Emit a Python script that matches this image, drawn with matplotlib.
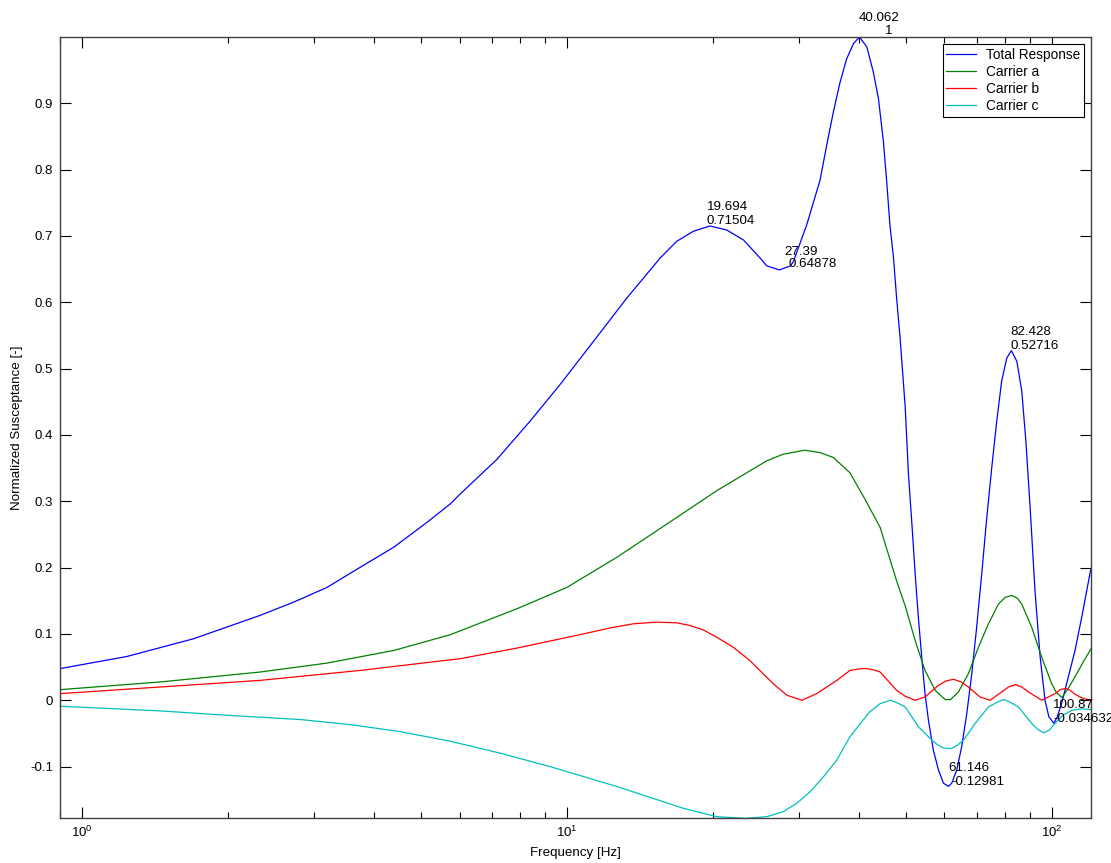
import numpy as np
import matplotlib
matplotlib.use('Agg')
import matplotlib.pyplot as plt
import matplotlib.ticker as mticker

plt.rcParams['font.family'] = ['Liberation Sans', 'DejaVu Sans']
plt.rcParams['axes.unicode_minus'] = False
plt.rcParams['mathtext.fontset'] = 'custom'
plt.rcParams['mathtext.rm'] = 'Liberation Sans'
plt.rcParams['mathtext.it'] = 'Liberation Sans:italic'

total_f = [0.90, 1.236, 1.696, 2.328, 2.73, 3.195, 3.743, 4.385, 5.136, 5.74, 6.018, 7.16,
           8.39, 9.67, 11.33, 13.28, 15.55, 16.83, 18.2, 19.694, 21.34, 23.1, 25.0, 25.8,
           27.39, 28.9, 29.3, 31.2, 32.7, 33.24, 34.3, 35.4, 36.55, 37.7, 38.95, 40.062,
           41.5, 42.8, 43.85, 44.9, 45.6, 46.3, 47.1, 47.8, 48.6, 49.0, 49.8, 50.56, 51.4,
           52.2, 53.0, 53.85, 54.7, 55.6, 56.9, 58.3, 59.7, 61.146, 62.1, 63.6, 65.1, 66.7,
           68.3, 69.9, 71.6, 73.35, 75.1, 76.9, 78.7, 80.65, 82.428, 84.6, 86.6, 88.3, 90.1,
           92.2, 94.5, 96.7, 98.5, 100.87, 102.5, 104.8, 108.0, 111.5, 115.1, 120.2]
total_v = [0.0477, 0.066, 0.0927, 0.128, 0.148, 0.170, 0.2005, 0.2305, 0.268, 0.296, 0.311, 0.363,
           0.421, 0.476, 0.541, 0.6065, 0.6667, 0.692, 0.707, 0.71504, 0.709, 0.694, 0.6667, 0.655,
           0.64878, 0.655, 0.662, 0.717, 0.767, 0.7845, 0.837, 0.887, 0.932, 0.967, 0.990, 1.0,
           0.985, 0.947, 0.907, 0.842, 0.782, 0.717, 0.667, 0.6065, 0.546, 0.511, 0.441, 0.341, 0.2657,
           0.1905, 0.125, 0.065, 0.010, -0.030, -0.075, -0.105, -0.125, -0.12981, -0.125, -0.105, -0.070, -0.020,
           0.040, 0.110, 0.1905, 0.2757, 0.351, 0.421, 0.481, 0.516, 0.52716, 0.511, 0.466, 0.391, 0.2907,
           0.1654, 0.065, 0.0, -0.025, -0.034632, -0.025, -0.003, 0.035, 0.075, 0.125, 0.198]

carrier_a_f = [0.90, 1.448, 2.328, 3.195, 4.385, 5.74, 7.88, 9.98, 12.66, 16.06, 20.35, 25.8,
               27.9, 30.9, 33.24, 35.4, 38.3, 41.0, 44.2, 47.8, 49.8, 52.2, 54.7, 57.4, 60.2,
               61.7, 64.1, 67.2, 70.5, 73.9, 77.5, 80.0, 82.6, 84.8, 86.6, 90.8, 95.2, 99.8,
               102.0, 104.8, 108.0, 112.4, 116.0, 120.2]
carrier_a_v = [0.016, 0.0276, 0.0426, 0.056, 0.075, 0.0988, 0.138, 0.170, 0.2155, 0.2657, 0.316, 0.361,
               0.371, 0.377, 0.3734, 0.366, 0.343, 0.305, 0.2606, 0.18, 0.142, 0.090, 0.045, 0.015, 0.001,
               0.001, 0.0125, 0.040, 0.080, 0.115, 0.145, 0.155, 0.158, 0.154, 0.145, 0.110, 0.065, 0.025,
               0.012, 0.004, 0.018, 0.040, 0.058, 0.077]

carrier_b_f = [0.90, 1.448, 2.328, 3.743, 6.018, 7.88, 10.8, 12.25, 13.7, 15.3, 16.83, 17.9,
               19.1, 20.35, 22.0, 23.8, 26.6, 28.4, 30.5, 32.7, 34.3, 36.0, 38.3, 39.8, 41.3,
               42.8, 44.2, 47.8, 49.8, 52.2, 54.7, 58.3, 60.4, 62.6, 64.8, 67.2, 71.0, 74.5,
               78.7, 81.3, 84.0, 86.6, 89.4, 95.2, 101.4, 104.0, 106.5, 109.0, 111.0, 114.2,
               117.0, 120.2]
carrier_b_v = [0.010, 0.020, 0.030, 0.045, 0.0627, 0.0787, 0.100, 0.109, 0.1153, 0.1178, 0.1168, 0.1128,
               0.106, 0.095, 0.080, 0.060, 0.025, 0.0075, 0.0, 0.010, 0.020, 0.030, 0.045, 0.047, 0.048,
               0.046, 0.0426, 0.015, 0.006, 0.0, 0.005, 0.0226, 0.029, 0.0316, 0.028, 0.020, 0.005, 0.0,
               0.0125, 0.020, 0.0236, 0.020, 0.0125, 0.0, 0.010, 0.016, 0.018, 0.015, 0.010, 0.005,
               0.002, 0.0]

carrier_c_f = [0.90, 1.448, 1.987, 2.815, 3.6, 4.5, 5.74, 7.3, 9.22, 12.66, 17.38, 20.35, 23.3,
               25.8, 27.9, 29.8, 31.7, 33.8, 36.0, 38.3, 42.0, 44.2, 46.4, 48.0, 49.8, 53.0,
               56.5, 57.8, 59.2, 60.5, 62.1, 64.0, 65.7, 69.4, 73.9, 77.5, 79.4, 81.5, 85.2,
               90.8, 93.5, 96.0, 98.7, 101.4, 105.5, 110.0, 115.0, 120.2]
carrier_c_v = [-0.009, -0.016, -0.0226, -0.029, -0.037, -0.047, -0.0617, -0.080, -0.100, -0.130, -0.163, -0.1755, -0.178,
               -0.1755, -0.168, -0.155, -0.138, -0.115, -0.090, -0.055, -0.018, -0.005, 0.0, -0.004, -0.010, -0.040,
               -0.060, -0.066, -0.071, -0.0725, -0.0727, -0.067, -0.060, -0.035, -0.010, -0.002, 0.001, -0.002, -0.010,
               -0.035, -0.044, -0.049, -0.045, -0.035, -0.022, -0.015, -0.013, -0.014]

series_names = ['Total Response', 'Carrier a', 'Carrier b', 'Carrier c']

# data tips
tip_f = [19.694, 27.39, 40.062, 61.146, 82.428, 100.87]
tip_v = [0.71504, 0.64878, 1, -0.12981, 0.52716, -0.034632]
tip_xtxt = ['19.694', '27.39', '40.062', '61.146', '82.428', '100.87']
tip_ytxt = ['0.71504', '0.64878', '1', '-0.12981', '0.52716', '-0.034632']
# pixel offsets of the two text lines
off1 = [(-3, 16), (5, 15), (-1, 16), (0, 15), (-1, 16), (-1, 15)]
off2 = [(-3, 2), (9, 3), (26, 3), (3, 1), (-1, 2), (-1, 1)]

fig = plt.figure(figsize=(11.11, 8.63), dpi=100)
ax = fig.add_axes([60/1111, 45/863, 1031/1111, 781/863])

colors = ['#0000ff', '#008000', '#ff0000', '#00bfbf']
xs = [total_f, carrier_a_f, carrier_b_f, carrier_c_f]
ys = [total_v, carrier_a_v, carrier_b_v, carrier_c_v]
for x, y, c, n in zip(xs, ys, colors, series_names):
    ax.plot(x, y, color=c, lw=0.9, label=n)

ax.set_xscale('log')
ax.set_xlim(0.9, 120.3)
ax.set_ylim(-0.1775, 1.0)

yt = np.round(np.arange(-0.1, 0.95, 0.1), 1)
ax.set_yticks(yt)
ax.set_yticklabels(['%g' % v for v in yt])
ax.xaxis.set_major_locator(mticker.LogLocator(base=10))
ax.xaxis.set_minor_locator(mticker.LogLocator(base=10, subs=np.arange(2, 10)))
ax.xaxis.set_minor_formatter(mticker.NullFormatter())

ax.tick_params(which='both', direction='in', top=True, right=True, labelsize=9.5, colors='k', pad=5)
ax.tick_params(which='major', length=8, width=0.8)
ax.tick_params(which='minor', length=4, width=0.8)
for s in ax.spines.values():
    s.set_color('#404040')
    s.set_linewidth(1.0)

ax.set_xlabel('Frequency [Hz]', fontsize=9.6, labelpad=5)
ax.set_ylabel('Normalized Susceptance [-]', fontsize=9.6, labelpad=5)

for i in range(len(tip_f)):
    ax.annotate(tip_xtxt[i], xy=(tip_f[i], tip_v[i]), xytext=off1[i], textcoords='offset pixels',
                ha='left', va='baseline', fontsize=9.6, annotation_clip=False)
    ax.annotate(tip_ytxt[i], xy=(tip_f[i], tip_v[i]), xytext=off2[i], textcoords='offset pixels',
                ha='left', va='baseline', fontsize=9.6, annotation_clip=False)

leg = ax.legend(loc='upper right', bbox_to_anchor=(1084/1111, 1-44/863), bbox_transform=fig.transFigure,
                fancybox=False, edgecolor='k', framealpha=1, fontsize=9.8, handlelength=2.2,
                handletextpad=0.7, labelspacing=0.22, borderpad=0.28, borderaxespad=0)
leg.get_frame().set_linewidth(0.8)

fig.savefig('out.png', dpi=100)
